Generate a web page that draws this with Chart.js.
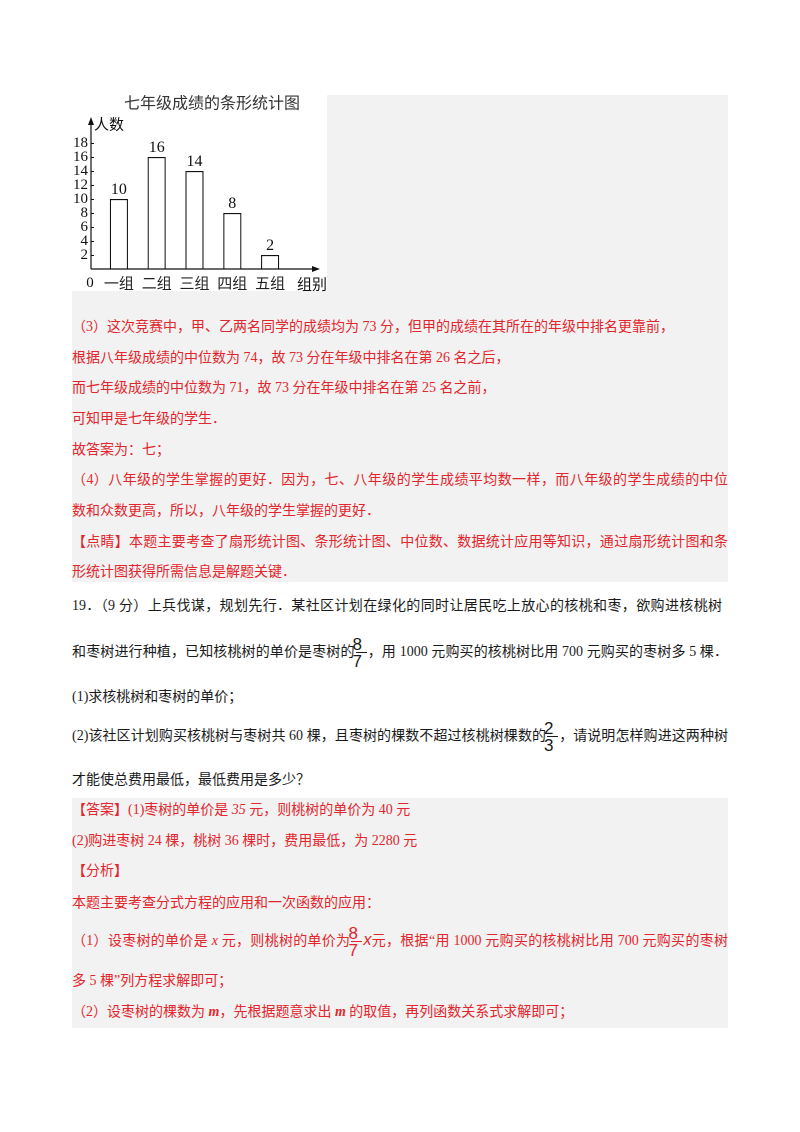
<!DOCTYPE html>
<html><head><meta charset="utf-8">
<script src="https://cdn.jsdelivr.net/npm/chart.js@4.4.0/dist/chart.umd.min.js"></script>
<style>
html,body{margin:0;padding:0;background:#fff;}
body{width:800px;height:1132px;position:relative;overflow:hidden;font-family:"Liberation Serif","Noto Sans CJK SC",serif;font-size:14px;}
.gray{position:absolute;left:72px;width:656px;background:#f2f2f2;}
.ln{position:absolute;left:72px;height:20px;line-height:20px;white-space:nowrap;}
.j{width:656px;text-align:justify;text-align-last:justify;}
.r{color:#e2262d;}
.k{color:#1a1a1a;}
.frac{display:inline-block;position:relative;width:11px;height:0;border-top:1px solid currentColor;vertical-align:middle;margin:0 1px;}
.frac .n,.frac .d{position:absolute;left:-3px;right:-3px;text-align:center;font:17px "Liberation Sans",sans-serif;line-height:17px;}
.frac .n{bottom:0px;}
.frac .d{top:0px;}
#chartBox{position:absolute;left:72px;top:95px;width:255px;height:196px;background:#fff;}
#chart{position:absolute;left:72px;top:92px;}
</style></head>
<body>
<div class="gray" style="top:95px;height:487px;"></div>
<div id="chartBox"></div>
<canvas id="chart" width="280" height="200" style="width:280px;height:200px;"></canvas>

<div class="ln r" style="top:317px;">（3）这次竞赛中，甲、乙两名同学的成绩均为 73 分，但甲的成绩在其所在的年级中排名更靠前，</div>
<div class="ln r" style="top:348px;">根据八年级成绩的中位数为 74，故 73 分在年级中排名在第 26 名之后，</div>
<div class="ln r" style="top:378px;">而七年级成绩的中位数为 71，故 73 分在年级中排名在第 25 名之前，</div>
<div class="ln r" style="top:409px;">可知甲是七年级的学生．</div>
<div class="ln r" style="top:440px;">故答案为：七；</div>
<div class="ln r j" style="top:470px;">（4）八年级的学生掌握的更好．因为，七、八年级的学生成绩平均数一样，而八年级的学生成绩的中位</div>
<div class="ln r" style="top:501px;">数和众数更高，所以，八年级的学生掌握的更好．</div>
<div class="ln r j" style="top:532px;">【点睛】本题主要考查了扇形统计图、条形统计图、中位数、数据统计应用等知识，通过扇形统计图和条</div>
<div class="ln r" style="top:562px;">形统计图获得所需信息是解题关键．</div>

<div class="ln k j" style="top:596px;width:650px;">19．（9 分）上兵伐谋，规划先行．某社区计划在绿化的同时让居民吃上放心的核桃和枣，欲购进核桃树</div>
<div class="ln k j" style="top:642px;">和枣树进行种植，已知核桃树的单价是枣树的<span class="frac"><span class="n">8</span><span class="d">7</span></span>，用 1000 元购买的核桃树比用 700 元购买的枣树多 5 棵．</div>
<div class="ln k" style="top:687px;">(1)求核桃树和枣树的单价；</div>
<div class="ln k j" style="top:726px;">(2)该社区计划购买核桃树与枣树共 60 棵，且枣树的棵数不超过核桃树棵数的<span class="frac"><span class="n">2</span><span class="d">3</span></span>，请说明怎样购进这两种树</div>
<div class="ln k" style="top:770px;">才能使总费用最低，最低费用是多少？</div>

<div class="gray" style="top:798px;height:230px;"></div>
<div class="ln r" style="top:800px;">【答案】(1)枣树的单价是 <i>35</i> 元，则桃树的单价为 40 元</div>
<div class="ln r" style="top:831px;">(2)购进枣树 24 棵，桃树 36 棵时，费用最低，为 2280 元</div>
<div class="ln r" style="top:861px;">【分析】</div>
<div class="ln r" style="top:893px;">本题主要考查分式方程的应用和一次函数的应用：</div>
<div class="ln r j" style="top:930px;">（1）设枣树的单价是 <i>x</i> 元，则桃树的单价为<span class="frac"><span class="n">8</span><span class="d">7</span></span><i style="font-family:'Liberation Sans';font-size:16px;">x</i>元，根据“用 1000 元购买的核桃树比用 700 元购买的枣树</div>
<div class="ln r" style="top:971px;">多 5 棵”列方程求解即可；</div>
<div class="ln r" style="top:1002px;">（2）设枣树的棵数为 <i><b>m</b></i>，先根据题意求出 <i><b>m</b></i> 的取值，再列函数关系式求解即可；</div>

<script>
const chartTitle = '七年级成绩的条形统计图';
const categories = ['一组', '二组', '三组', '四组', '五组'];
const counts = [10, 16, 14, 8, 2];
const yAxisName = '人数';
const xAxisName = '组别';
const yMax = 18;
const yStep = 2;

const decor = {
  id: 'decor',
  afterDatasetsDraw(chart) {
    const ctx = chart.ctx;
    const xs = chart.scales.x, ys = chart.scales.y;
    const area = chart.chartArea;
    const ox = area.left - 9;
    const oy = ys.getPixelForValue(0);
    const topY = ys.getPixelForValue(yMax) - 26;
    const rightX = area.right + 31;
    ctx.save();
    ctx.strokeStyle = '#111';
    ctx.fillStyle = '#111';
    ctx.lineWidth = 1.2;
    ctx.beginPath(); ctx.moveTo(ox, oy); ctx.lineTo(ox, topY + 4); ctx.stroke();
    ctx.beginPath(); ctx.moveTo(ox, topY); ctx.lineTo(ox - 3, topY + 8); ctx.lineTo(ox + 3, topY + 8); ctx.closePath(); ctx.fill();
    ctx.beginPath(); ctx.moveTo(ox, oy); ctx.lineTo(rightX - 4, oy); ctx.stroke();
    ctx.beginPath(); ctx.moveTo(rightX, oy); ctx.lineTo(rightX - 8, oy - 3); ctx.lineTo(rightX - 8, oy + 3); ctx.closePath(); ctx.fill();
    ctx.lineWidth = 1;
    ys.ticks.forEach(t => {
      if (t.value > 0) {
        const y = Math.round(ys.getPixelForValue(t.value)) + 0.5;
        ctx.beginPath(); ctx.moveTo(ox, y); ctx.lineTo(ox + 3, y); ctx.stroke();
      }
    });
    ctx.font = '16px "Liberation Serif", serif';
    ctx.textAlign = 'center';
    ctx.textBaseline = 'bottom';
    const meta = chart.getDatasetMeta(0);
    meta.data.forEach((bar, i) => {
      ctx.fillText(String(counts[i]), bar.x, bar.y - 1);
    });
    ctx.textBaseline = 'middle';
    ctx.textAlign = 'left';
    ctx.font = '15px "Noto Sans CJK SC", sans-serif';
    ctx.fillText(yAxisName, ox + 3, topY + 7);
    ctx.textAlign = 'center';
    ctx.fillText(xAxisName, rightX - 8, oy + 15);
    ctx.font = '15px "Liberation Serif", serif';
    ctx.fillText('0', ox - 1, oy + 14);
    ctx.restore();
  }
};

new Chart(document.getElementById('chart'), {
  type: 'bar',
  data: {
    labels: categories,
    datasets: [{
      data: counts,
      backgroundColor: '#ffffff',
      borderColor: '#111111',
      borderWidth: 1.2,
      categoryPercentage: 0.48,
      barPercentage: 1
    }]
  },
  options: {
    responsive: false,
    animation: false,
    devicePixelRatio: 2,
    layout: { padding: 0 },
    plugins: {
      legend: { display: false },
      tooltip: { enabled: false },
      title: {
        display: true,
        text: chartTitle,
        color: '#333',
        font: { family: '"Noto Sans CJK SC", sans-serif', size: 16, weight: 'normal', lineHeight: 1.2 },
        padding: { top: 1, bottom: 30.8 }
      }
    },
    scales: {
      x: {
        grid: { display: false, drawTicks: false },
        border: { display: false },
        ticks: { color: '#222', font: { family: '"Noto Sans CJK SC", sans-serif', size: 15 }, padding: 5, maxRotation: 0, autoSkip: false },
        afterFit(scale) { scale.height = 23; }
      },
      y: {
        min: 0, max: yMax,
        grid: { display: false, drawTicks: false },
        border: { display: false },
        ticks: {
          stepSize: yStep,
          autoSkip: false,
          color: '#111',
          padding: 12,
          font: { family: '"Liberation Serif", serif', size: 15 },
          callback: v => (v === 0 ? '' : v)
        },
        afterFit(scale) { scale.width = 28; }
      },
      yRight: {
        position: 'right',
        display: true,
        grid: { display: false, drawTicks: false },
        border: { display: false },
        ticks: { display: false },
        afterFit(scale) { scale.width = 63; }
      }
    }
  },
  plugins: [decor]
});
</script>
</body></html>
